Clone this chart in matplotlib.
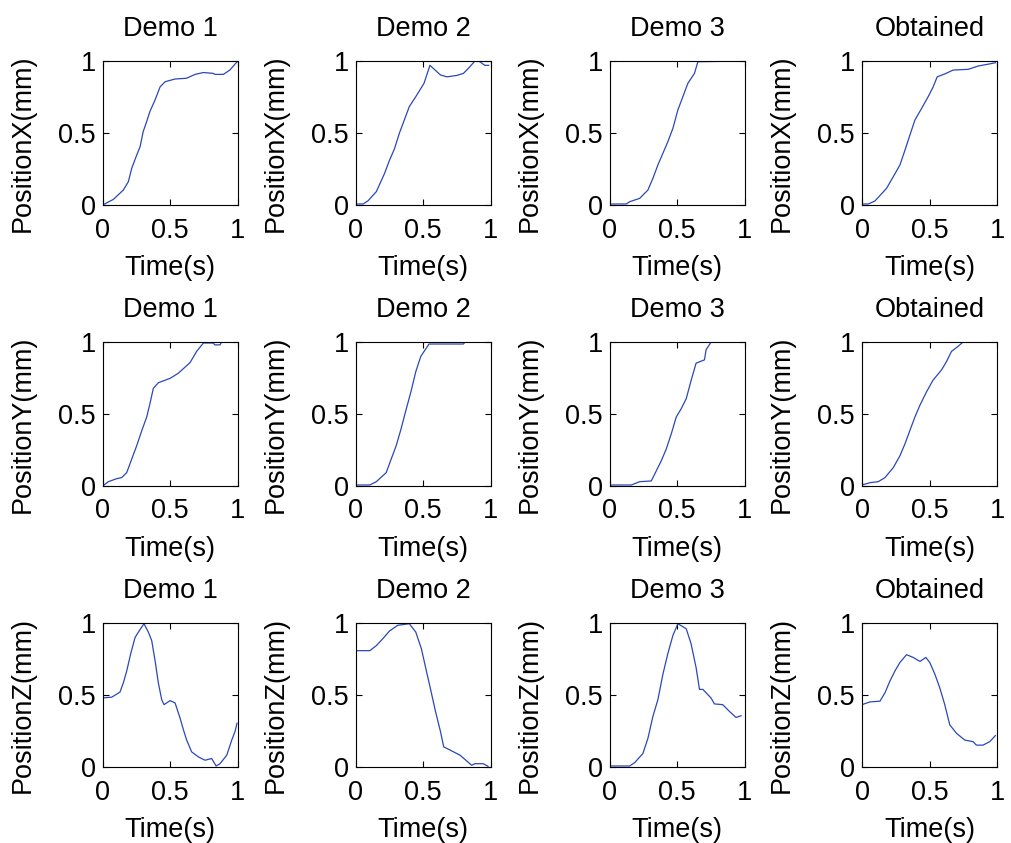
import matplotlib
matplotlib.use("Agg")
import matplotlib.pyplot as plt

plt.rcParams['font.family'] = ['Liberation Sans', 'DejaVu Sans']

titles = ["Demo 1", "Demo 2", "Demo 3", "Obtained"]
ylabels = ["PositionX(mm)", "PositionY(mm)", "PositionZ(mm)"]
xlabel = "Time(s)"
ticks = [0, 0.5, 1]
tick_labels = ["0", "0.5", "1"]

# Position X
x_demo1_t = [0, 0.079, 0.153, 0.19, 0.215, 0.252, 0.277, 0.30, 0.326, 0.35, 0.388, 0.425, 0.462, 0.536, 0.62, 0.684, 0.746, 0.82, 0.83, 0.894, 0.943, 1.0]
x_demo1_v = [0, 0.039, 0.104, 0.162, 0.255, 0.347, 0.405, 0.51, 0.58, 0.65, 0.73, 0.82, 0.856, 0.875, 0.88, 0.907, 0.92, 0.914, 0.907, 0.907, 0.938, 1.0]
x_demo2_t = [0, 0.056, 0.092, 0.153, 0.214, 0.25, 0.287, 0.324, 0.36, 0.397, 0.445, 0.506, 0.55, 0.628, 0.676, 0.75, 0.798, 0.835, 0.883, 0.92, 0.956, 0.985]
x_demo2_v = [0.007, 0.007, 0.03, 0.093, 0.22, 0.31, 0.39, 0.5, 0.59, 0.683, 0.752, 0.845, 0.97, 0.903, 0.89, 0.9, 0.914, 0.949, 1.0, 0.995, 0.97, 0.97]
x_demo3_t = [0, 0.123, 0.148, 0.222, 0.283, 0.32, 0.357, 0.394, 0.431, 0.468, 0.505, 0.542, 0.579, 0.628, 0.653, 1.0]
x_demo3_v = [0.007, 0.007, 0.023, 0.046, 0.104, 0.185, 0.278, 0.359, 0.44, 0.532, 0.66, 0.752, 0.845, 0.914, 0.995, 1.0]
x_obt_t = [0, 0.047, 0.096, 0.182, 0.232, 0.281, 0.318, 0.355, 0.392, 0.441, 0.49, 0.527, 0.557, 0.613, 0.675, 0.786, 0.86, 0.946, 0.988]
x_obt_v = [0.007, 0.007, 0.028, 0.116, 0.197, 0.278, 0.38, 0.486, 0.59, 0.67, 0.752, 0.82, 0.89, 0.91, 0.937, 0.942, 0.965, 0.98, 0.988]

# Position Y
y_demo1_t = [0, 0.042, 0.104, 0.14, 0.178, 0.215, 0.252, 0.29, 0.326, 0.35, 0.375, 0.412, 0.5, 0.56, 0.647, 0.696, 0.746, 0.82, 0.83, 0.869, 0.88, 1.0]
y_demo1_v = [0, 0.03, 0.051, 0.058, 0.093, 0.187, 0.28, 0.386, 0.479, 0.572, 0.678, 0.717, 0.748, 0.783, 0.857, 0.935, 0.993, 0.993, 0.98, 0.98, 0.998, 1.0]
y_demo2_t = [0, 0.105, 0.153, 0.226, 0.263, 0.3, 0.336, 0.372, 0.409, 0.445, 0.482, 0.543, 0.798, 0.81, 1.0]
y_demo2_v = [0.007, 0.007, 0.03, 0.093, 0.187, 0.28, 0.397, 0.526, 0.654, 0.794, 0.9, 0.986, 0.986, 1.0, 1.0]
y_demo3_t = [0, 0.16, 0.222, 0.308, 0.345, 0.382, 0.419, 0.456, 0.493, 0.53, 0.567, 0.604, 0.64, 0.702, 0.714, 0.751, 1.0]
y_demo3_v = [0.007, 0.007, 0.03, 0.035, 0.105, 0.175, 0.257, 0.362, 0.479, 0.537, 0.607, 0.736, 0.853, 0.876, 0.946, 1.0, 1.0]
y_obt_t = [0, 0.059, 0.12, 0.17, 0.232, 0.281, 0.318, 0.355, 0.392, 0.429, 0.478, 0.527, 0.589, 0.626, 0.663, 0.712, 0.749, 1.0]
y_obt_v = [0.007, 0.023, 0.03, 0.058, 0.128, 0.21, 0.292, 0.386, 0.479, 0.561, 0.654, 0.736, 0.806, 0.864, 0.935, 0.97, 1.0, 1.0]

# Position Z
z_demo1_t = [0, 0.067, 0.128, 0.153, 0.178, 0.207, 0.24, 0.272, 0.306, 0.338, 0.363, 0.388, 0.412, 0.437, 0.454, 0.499, 0.536, 0.573, 0.598, 0.622, 0.659, 0.709, 0.758, 0.807, 0.84, 0.869, 0.919, 0.956, 0.98, 0.995]
z_demo1_v = [0.48, 0.485, 0.52, 0.585, 0.667, 0.785, 0.90, 0.948, 0.995, 0.937, 0.878, 0.738, 0.585, 0.468, 0.433, 0.461, 0.445, 0.34, 0.258, 0.187, 0.105, 0.07, 0.047, 0.059, 0.007, 0.023, 0.082, 0.187, 0.246, 0.304]
z_demo2_t = [0, 0.105, 0.153, 0.2, 0.25, 0.311, 0.397, 0.445, 0.487, 0.518, 0.555, 0.591, 0.628, 0.652, 0.7, 0.773, 0.859, 0.883, 0.944, 0.98]
z_demo2_v = [0.808, 0.808, 0.843, 0.89, 0.944, 0.984, 0.995, 0.937, 0.82, 0.69, 0.538, 0.386, 0.246, 0.14, 0.117, 0.082, 0.012, 0.023, 0.023, 0.005]
z_demo3_t = [0, 0.148, 0.185, 0.246, 0.283, 0.32, 0.357, 0.394, 0.43, 0.468, 0.505, 0.567, 0.603, 0.64, 0.665, 0.69, 0.75, 0.776, 0.837, 0.887, 0.936, 0.973]
z_demo3_v = [0.007, 0.007, 0.03, 0.094, 0.199, 0.351, 0.468, 0.644, 0.785, 0.913, 0.995, 0.96, 0.855, 0.69, 0.539, 0.539, 0.48, 0.438, 0.433, 0.386, 0.344, 0.356]
z_obt_t = [0, 0.059, 0.133, 0.17, 0.207, 0.244, 0.281, 0.33, 0.379, 0.429, 0.473, 0.502, 0.54, 0.576, 0.613, 0.65, 0.7, 0.761, 0.823, 0.847, 0.897, 0.946, 0.988]
z_obt_v = [0.433, 0.452, 0.457, 0.515, 0.597, 0.667, 0.726, 0.78, 0.761, 0.733, 0.761, 0.726, 0.644, 0.55, 0.433, 0.293, 0.234, 0.187, 0.176, 0.152, 0.152, 0.176, 0.218]

series = [
    [(x_demo1_t, x_demo1_v), (x_demo2_t, x_demo2_v), (x_demo3_t, x_demo3_v), (x_obt_t, x_obt_v)],
    [(y_demo1_t, y_demo1_v), (y_demo2_t, y_demo2_v), (y_demo3_t, y_demo3_v), (y_obt_t, y_obt_v)],
    [(z_demo1_t, z_demo1_v), (z_demo2_t, z_demo2_v), (z_demo3_t, z_demo3_v), (z_obt_t, z_obt_v)],
]

W, H = 1011, 843
fig = plt.figure(figsize=(W / 100, H / 100), dpi=100)

col_left = [102.7, 355.7, 609.7, 862.0]
col_width = 135.0
row_top = [61.0, 342.0, 623.0]
row_height = 144.0
fs = 19.5

for r in range(3):
    for c in range(4):
        ax = fig.add_axes([col_left[c] / W, 1 - (row_top[r] + row_height) / H,
                           col_width / W, row_height / H])
        t, v = series[r][c]
        ax.plot(t, v, color='#2a48b8', linewidth=0.9)
        ax.set_xlim(0, 1)
        ax.set_ylim(0, 1)
        ax.set_xticks(ticks)
        ax.set_xticklabels(tick_labels)
        ax.set_yticks(ticks)
        ax.set_yticklabels(tick_labels)
        ax.tick_params(direction='in', length=4, width=0.8, top=True, right=True,
                       labelsize=fs)
        ax.tick_params(axis='x', pad=9)
        ax.tick_params(axis='y', pad=5)
        for sp in ax.spines.values():
            sp.set_linewidth(0.8)
        ax.set_title(titles[c], fontsize=fs, pad=18)
        ax.set_xlabel(xlabel, fontsize=fs, labelpad=8)
        ax.set_ylabel(ylabels[r], fontsize=fs, labelpad=16)
        # y-label sits a little below the axes centre
        ax.yaxis.label.set_y(0.43)

fig.savefig("out.png", dpi=100, facecolor='white')
